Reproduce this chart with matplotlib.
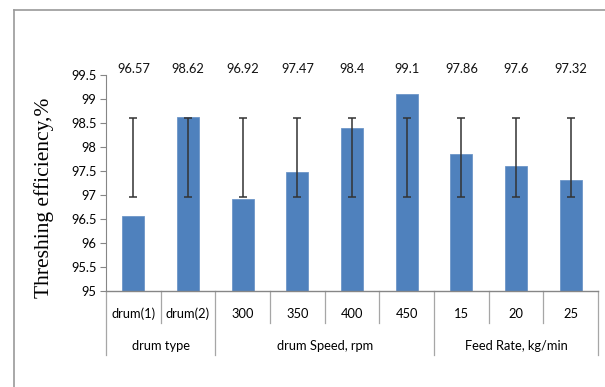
import matplotlib.pyplot as plt
from matplotlib.lines import Line2D
from matplotlib.transforms import blended_transform_factory

# threshing efficiency for each treatment
categories = ['drum(1)', 'drum(2)', '300', '350', '400', '450', '15', '20', '25']
efficiency = [96.57, 98.62, 96.92, 97.47, 98.4, 99.1, 97.86, 97.6, 97.32]
err_low = [96.95, 96.95, 96.95, 96.95, 96.95, 96.95, 96.95, 96.95, 96.95]
err_high = [98.6, 98.6, 98.6, 98.6, 98.6, 98.6, 98.6, 98.6, 98.6]
groups = ['drum type', 'drum Speed, rpm', 'Feed Rate, kg/min']
group_sizes = [2, 4, 3]
yticks = [95, 95.5, 96, 96.5, 97, 97.5, 98, 98.5, 99, 99.5]

plt.rcParams['font.family'] = ['Lato', 'DejaVu Sans']
fs = 9.3

fig = plt.figure(figsize=(6.05, 3.87), dpi=100)
ax = fig.add_axes([106 / 605, 1 - 291 / 387, 492 / 605, 216 / 387])

x = list(range(len(categories)))
ax.bar(x, [v - 95 for v in efficiency], bottom=95, width=0.4,
       color='#4f81bd', edgecolor='#6d96c8', linewidth=0.6, zorder=2)

mid = [(lo + hi) / 2 for lo, hi in zip(err_low, err_high)]
half = [(hi - lo) / 2 for lo, hi in zip(err_low, err_high)]
ax.errorbar(x, mid, yerr=half, fmt='none', ecolor='#333333',
            elinewidth=1.1, capsize=3, capthick=1.1, zorder=3)

# value labels along the top
for xi, v in zip(x, efficiency):
    ax.text(xi, 99.5, f'{v:g}', ha='center', va='bottom', fontsize=fs,
            color='#111111')

ax.set_xlim(-0.5, len(categories) - 0.5)
ax.set_ylim(95, 99.5)
ax.set_yticks(yticks)
ax.set_yticklabels([f'{t:g}' for t in yticks], fontsize=fs)
ax.tick_params(axis='y', length=4, color='#868686', pad=3)
ax.set_xticks([])

for s in ['top', 'right']:
    ax.spines[s].set_visible(False)
ax.spines['left'].set_color('#868686')
ax.spines['bottom'].set_color('#868686')
ax.spines['bottom'].set_linewidth(1.0)

ax.set_ylabel('Threshing efficiency,%', family='Liberation Serif',
              fontsize=15.5)
ax.yaxis.set_label_coords(-0.126, 0.43)
ax.yaxis.label.set_va('center')

# two-level category axis below the bars
tr = blended_transform_factory(ax.transData, ax.transAxes)
row1 = -32 / 216
row2 = -64 / 216
for xi, c in zip(x, categories):
    ax.text(xi, -23 / 216, c, transform=tr, ha='center', va='center',
            fontsize=fs)

bounds = [0]
for n in group_sizes:
    bounds.append(bounds[-1] + n)
for i in range(len(categories) + 1):
    depth = row2 if i in bounds else row1
    ax.add_line(Line2D([i - 0.5, i - 0.5], [0, depth], transform=tr,
                       color='#a6a6a6', linewidth=0.9, clip_on=False))
for g, a, b in zip(groups, bounds[:-1], bounds[1:]):
    ax.text((a + b - 1) / 2, -55 / 216, g, transform=tr, ha='center',
            va='center', fontsize=fs)

# outer chart frame
fig.add_artist(Line2D([14 / 605, 14 / 605], [0, 1 - 10 / 387],
                      color='#9a9a9a', linewidth=1.2))
fig.add_artist(Line2D([14 / 605, 1], [1 - 10 / 387, 1 - 10 / 387],
                      color='#9a9a9a', linewidth=1.2))

fig.savefig('out.png', dpi=100)
